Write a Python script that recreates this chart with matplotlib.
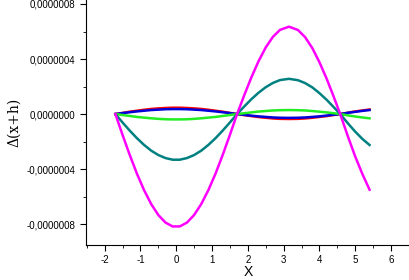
import matplotlib
matplotlib.use("Agg")
import matplotlib.pyplot as plt
from matplotlib.ticker import MultipleLocator, FuncFormatter
import numpy as np

plt.rcParams['font.family'] = ['Liberation Sans', 'DejaVu Sans']
plt.rcParams['axes.unicode_minus'] = False

# x-values and curves (values in units of 1e-7)
x = [-1.7, -1.5, -1.3, -1.1, -0.9, -0.7, -0.5, -0.3, -0.1, 0.1, 0.3, 0.5, 0.7, 0.9,
     1.1, 1.3, 1.5, 1.7, 1.9, 2.1, 2.3, 2.5, 2.7, 2.9, 3.15, 3.4, 3.6, 3.8, 4.0,
     4.2, 4.4, 4.58, 4.8, 5.0, 5.2, 5.4]
magenta = [0, -1.51, -2.96, -4.32, -5.52, -6.54, -7.34, -7.89, -8.17, -8.17, -7.89, -7.34,
           -6.54, -5.52, -4.32, -2.96, -1.51, 0, 1.37, 2.67, 3.84, 4.84, 5.61, 6.12, 6.35,
           6.11, 5.59, 4.80, 3.77, 2.58, 1.25, 0, -1.66, -3.09, -4.36, -5.5]
teal = [0, -0.61, -1.20, -1.75, -2.24, -2.66, -2.98, -3.20, -3.32, -3.32, -3.20, -2.98,
        -2.66, -2.24, -1.75, -1.20, -0.61, 0, 0.55, 1.08, 1.55, 1.95, 2.26, 2.47, 2.56,
        2.46, 2.25, 1.94, 1.52, 1.04, 0.50, 0, -0.69, -1.28, -1.81, -2.25]
green = [0, -0.07, -0.14, -0.21, -0.26, -0.31, -0.35, -0.38, -0.39, -0.39, -0.38, -0.35,
         -0.31, -0.26, -0.21, -0.14, -0.07, 0, 0.06, 0.12, 0.18, 0.22, 0.26, 0.28, 0.29,
         0.28, 0.26, 0.22, 0.17, 0.12, 0.06, 0, -0.10, -0.18, -0.25, -0.31]
red = [0, 0.08, 0.17, 0.24, 0.31, 0.37, 0.41, 0.44, 0.46, 0.46, 0.44, 0.41,
       0.37, 0.31, 0.24, 0.17, 0.08, 0, -0.08, -0.15, -0.22, -0.27, -0.32, -0.35, -0.36,
       -0.35, -0.32, -0.27, -0.21, -0.15, -0.07, 0, 0.10, 0.19, 0.26, 0.33]
blue = [0, 0.07, 0.13, 0.19, 0.24, 0.29, 0.32, 0.35, 0.36, 0.36, 0.35, 0.32,
        0.29, 0.24, 0.19, 0.13, 0.07, 0, -0.06, -0.12, -0.17, -0.21, -0.25, -0.27, -0.28,
        -0.27, -0.25, -0.21, -0.17, -0.11, -0.05, 0, 0.09, 0.16, 0.23, 0.29]
scale = 1e-7

fig = plt.figure(figsize=(4.1, 2.8), dpi=100)
ax = fig.add_axes([86/410, 35/280, 324/410, 245/280])

for ys, c in [(red, '#ff0000'), (blue, '#0000dd'), (green, '#22ee22'),
              (teal, '#008080'), (magenta, '#ff00ff')]:
    ax.plot(x, np.array(ys) * scale, color=c, lw=1.8, solid_joinstyle='round')

ax.set_xlim(-2.52, 6.53)
ax.set_ylim(-9.52e-7, 8.29e-7)
ax.spines['top'].set_visible(False)
ax.spines['right'].set_visible(False)
ax.xaxis.set_major_locator(MultipleLocator(1))
ax.xaxis.set_minor_locator(MultipleLocator(0.5))
ax.yaxis.set_major_locator(MultipleLocator(4e-7))
ax.yaxis.set_minor_locator(MultipleLocator(2e-7))

def fmt(v, pos):
    if abs(v) < 1e-12:
        return '0,0000000'
    return ('%.7f' % v).replace('.', ',')

ax.yaxis.set_major_formatter(FuncFormatter(fmt))
ax.tick_params(which='major', direction='out', length=4, labelsize=7)
ax.tick_params(which='minor', direction='out', length=2.5)
ax.set_xlabel('X', fontsize=10, labelpad=0)
ax.set_ylabel('Δ(x+h)', fontsize=10, family=['DejaVu Serif'])

fig.savefig('out.png', dpi=100)
